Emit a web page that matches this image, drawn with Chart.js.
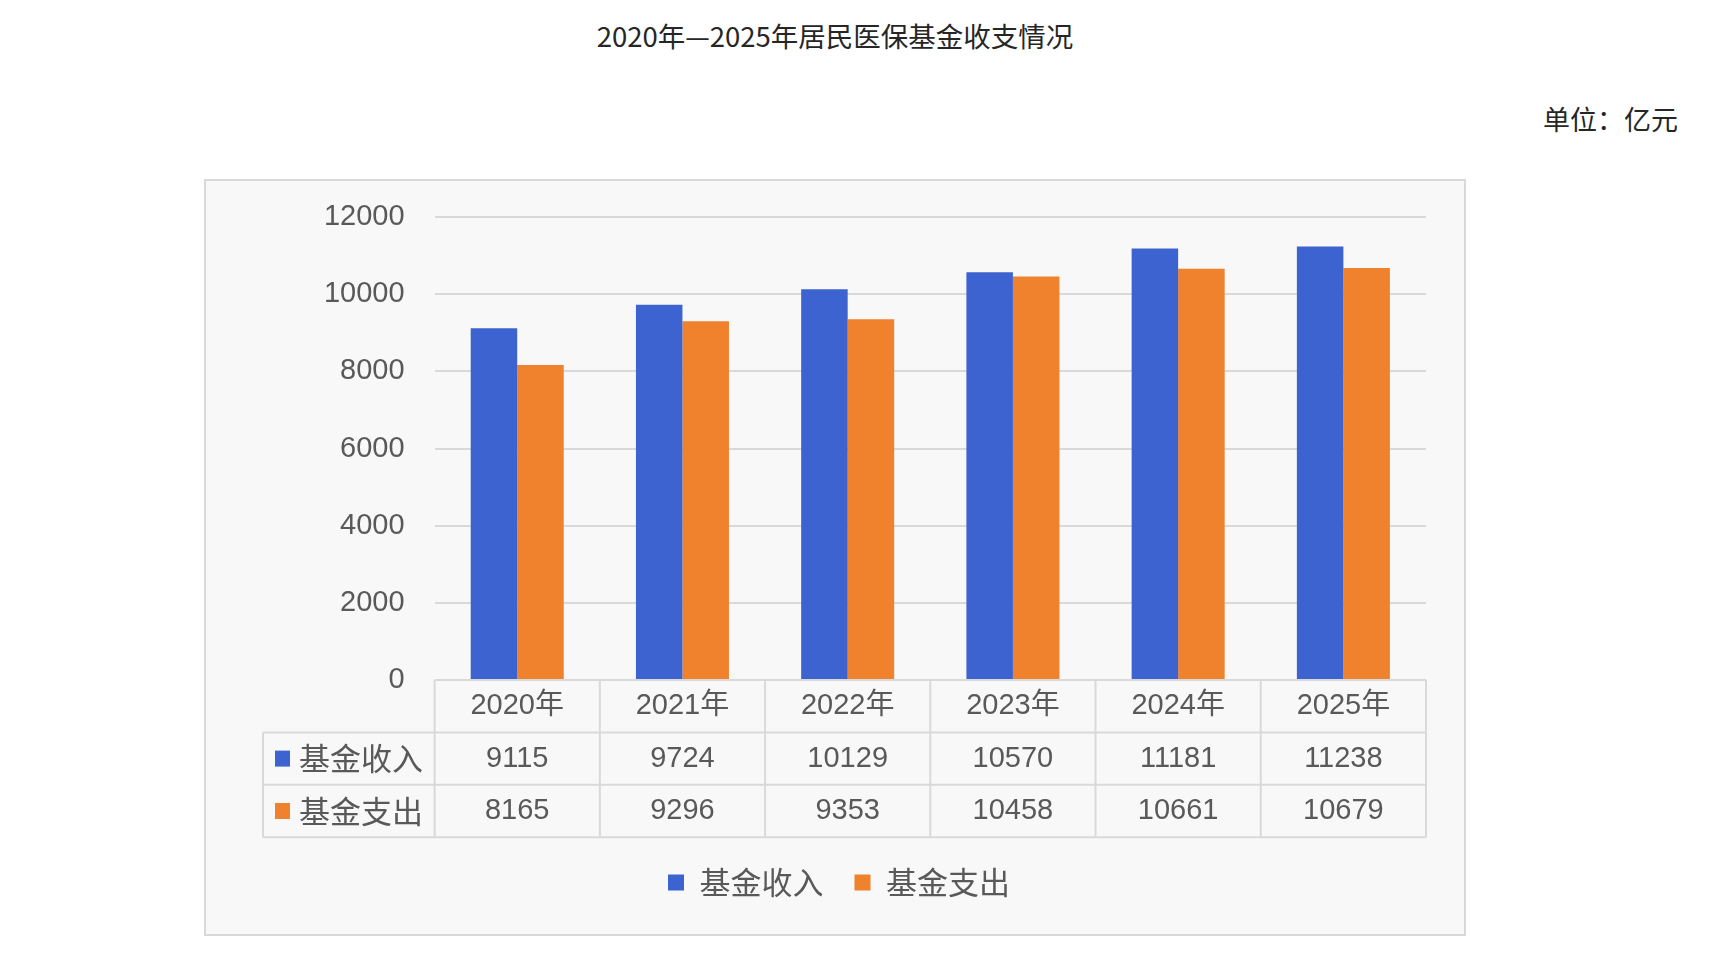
<!DOCTYPE html>
<html>
<head>
<meta charset="utf-8">
<script src="https://cdn.jsdelivr.net/npm/chart.js@4.4.1/dist/chart.umd.min.js"></script>
<style>
  html,body{margin:0;padding:0;background:#fff;width:1712px;height:955px;overflow:hidden;}
  .ttl{position:absolute;left:435px;width:800px;top:15px;line-height:30px;text-align:center;
       font:27.5px "Noto Sans CJK SC","Liberation Sans",sans-serif;color:#262626;}
  .unit{position:absolute;right:34px;top:99px;line-height:30px;
       font:27px "Noto Sans CJK SC",sans-serif;color:#262626;}
  .box{position:absolute;left:204px;top:179px;width:1262px;height:757px;box-sizing:border-box;
       border:2px solid #d9d9d9;background:#f8f8f8;}
  .box canvas{display:block;}
</style>
</head>
<body>
<div class="ttl">2020年—2025年居民医保基金收支情况</div>
<div class="unit">单位：亿元</div>
<div class="box"><canvas id="c" width="1258" height="753"></canvas></div>
<script>
  // ---- data ----
  const years   = ['2020年','2021年','2022年','2023年','2024年','2025年'];
  const income  = [9115, 9724, 10129, 10570, 11181, 11238];
  const expense = [8165, 9296, 9353, 10458, 10661, 10679];
  const seriesNames = ['基金收入','基金支出'];
  const yTicks = [0, 2000, 4000, 6000, 8000, 10000, 12000];

  const BLUE='#3d63d1', ORANGE='#f0812d', TXT='#595959', LINE='#d9d9d9';
  const FONT='"Liberation Sans","Noto Sans CJK SC",sans-serif';
  const CJK='"Noto Sans CJK SC",sans-serif';
  const FS=29, FS_CJK=31;

  // data table under the plot, columns follow the x scale
  const tablePlugin = {
    id:'dataTable',
    afterDraw(chart){
      const {ctx, chartArea} = chart;
      const x = chart.scales.x;
      const n = years.length, colW = x.width / n, rowH = 52.4;
      const top = chartArea.bottom, left = 57;
      ctx.save();
      ctx.strokeStyle = LINE; ctx.lineWidth = 2;
      ctx.beginPath();
      ctx.moveTo(x.left, top); ctx.lineTo(x.right, top);
      for (let r=1;r<=3;r++){ ctx.moveTo(left, top+r*rowH); ctx.lineTo(x.right, top+r*rowH); }
      for (let i=0;i<=n;i++){ const px=x.left+i*colW; ctx.moveTo(px, top); ctx.lineTo(px, top+3*rowH); }
      ctx.moveTo(left, top+rowH); ctx.lineTo(left, top+3*rowH);
      ctx.stroke();

      ctx.fillStyle = TXT; ctx.font = FS+'px '+FONT;
      ctx.textAlign = 'center'; ctx.textBaseline = 'middle';
      const rows = [income, expense];
      years.forEach((y,i)=>{
        const cx = x.getPixelForValue(i);
        ctx.fillText(y, cx, top+rowH*0.5);
        rows.forEach((arr,r)=> ctx.fillText(String(arr[i]), cx, top+rowH*(r+1.5)));
      });
      ctx.textAlign = 'left'; ctx.font = FS_CJK+'px '+CJK;
      [BLUE, ORANGE].forEach((c,r)=>{
        const cy = top+rowH*(r+1.5);
        ctx.fillStyle = c; ctx.fillRect(69, cy-8, 15, 16);
        ctx.fillStyle = TXT; ctx.fillText(seriesNames[r], 93, cy);
      });
      ctx.restore();
    }
  };

  new Chart(document.getElementById('c'), {
    type:'bar',
    data:{
      labels: years,
      datasets:[
        {label:seriesNames[0], data:income,  backgroundColor:BLUE,   categoryPercentage:0.563, barPercentage:1},
        {label:seriesNames[1], data:expense, backgroundColor:ORANGE, categoryPercentage:0.563, barPercentage:1}
      ]
    },
    options:{
      responsive:false, animation:false,
      layout:{padding:{left:46, right:38, top:36, bottom:26}},
      plugins:{
        tooltip:{enabled:false},
        legend:{
          position:'bottom',
          labels:{color:TXT, font:{family:CJK, size:FS_CJK}, boxWidth:16, boxHeight:16, padding:31}
        }
      },
      scales:{
        x:{
          grid:{display:false, drawTicks:false}, border:{display:false},
          ticks:{display:false},
          afterFit(s){ s.height = 156; }
        },
        y:{
          min:0, max:12000,
          afterBuildTicks(s){ s.ticks = yTicks.map(v=>({value:v})); },
          grid:{color:LINE, lineWidth:2, drawTicks:false}, border:{display:false},
          ticks:{color:TXT, font:{family:FONT, size:FS}, padding:30, callback:v=>String(v)},
          afterFit(s){ s.width = 182.6; s.paddingTop = 0; }
        }
      }
    },
    plugins:[tablePlugin]
  });
</script>
</body>
</html>
